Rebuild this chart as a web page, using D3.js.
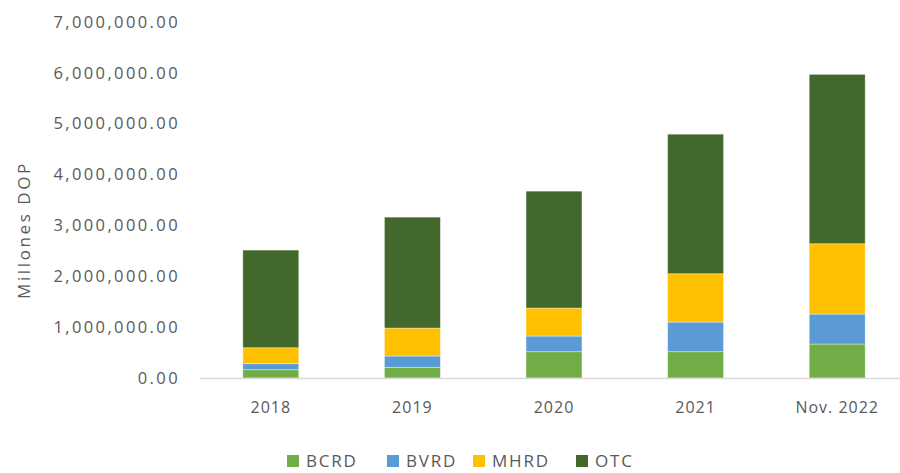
<!DOCTYPE html>
<html>
<head>
<meta charset="utf-8">
<script src="https://cdnjs.cloudflare.com/ajax/libs/d3/7.8.5/d3.min.js"></script>
<style>
  body { margin: 0; background: #fff; }
  svg { display: block; font-family: "Open Sans", "Noto Sans", sans-serif; }
  .tick-label { fill: #595959; font-size: 16.5px; letter-spacing: 2.4px; }
  .label { fill: #595959; font-size: 16px; letter-spacing: 1px; }
  .legend text { font-size: 17px; letter-spacing: 1.8px; }
  .title { fill: #595959; font-size: 17px; letter-spacing: 2.6px; }
</style>
</head>
<body>
<div class="chart"></div>
<script>
var MercadoChart = MercadoChart || {};

MercadoChart.Config = {
  'keys' : ['BCRD', 'BVRD', 'MHRD', 'OTC'],
  'colors' : ['#70ad47', '#5b9bd5', '#ffc000', '#43682b'],
  // millones DOP
  'data' : [
    {year: '2018',      BCRD: 163000, BVRD: 118000, MHRD: 314000, OTC: 1920000},
    {year: '2019',      BCRD: 210000, BVRD: 222000, MHRD: 550000, OTC: 2181000},
    {year: '2020',      BCRD: 517000, BVRD: 308000, MHRD: 550000, OTC: 2299000},
    {year: '2021',      BCRD: 517000, BVRD: 583000, MHRD: 950000, OTC: 2744000},
    {year: 'Nov. 2022', BCRD: 668000, BVRD: 589000, MHRD: 1383000, OTC: 3330000}
  ]
};

MercadoChart.Stacked = (function(){
  var config = MercadoChart.Config;

  function drawChart() {
    var totalWidth = 900, totalHeight = 473;
    var left = 200, baseline = 378, top = 22;
    var step = 141.6;

    var x = d3.scaleBand()
        .domain(config.data.map(function(d) { return d.year; }))
        .range([left, left + step * config.data.length])
        .paddingInner(0.605)
        .paddingOuter(0.3025);

    var y = d3.scaleLinear()
        .domain([0, 7000000])
        .range([baseline, top]);

    var color = d3.scaleOrdinal()
        .domain(config.keys)
        .range(config.colors);

    var svg = d3.select(".chart").append("svg")
        .attr("width", totalWidth)
        .attr("height", totalHeight);

    // y tick labels (no gridlines)
    var fmt = d3.format(",.2f");
    svg.selectAll(".ytick")
        .data(y.ticks(7))
      .enter().append("text")
        .attr("class", "tick-label")
        .attr("x", 180)
        .attr("y", function(d) { return y(d); })
        .attr("dy", "0.35em")
        .style("text-anchor", "end")
        .text(function(d) { return fmt(d); });

    var stack = d3.stack().keys(config.keys);
    var series = stack(config.data);

    svg.selectAll(".serie")
        .data(series)
      .enter().append("g")
        .attr("class", "serie")
        .attr("fill", function(d) { return color(d.key); })
      .selectAll("rect")
        .data(function(d) { return d; })
      .enter().append("rect")
        .attr("x", function(d) { return x(d.data.year); })
        .attr("y", function(d) { return y(d[1]); })
        .attr("width", x.bandwidth())
        .attr("height", function(d) { return y(d[0]) - y(d[1]); })
        .attr("stroke", "rgba(255,255,255,0.45)")
        .attr("stroke-width", 0.8);

    // base axis line
    svg.append("line")
        .attr("x1", left)
        .attr("x2", totalWidth)
        .attr("y1", baseline + 0.5)
        .attr("y2", baseline + 0.5)
        .attr("stroke", "#d9d9d9")
        .attr("stroke-width", 1.5);

    svg.selectAll(".xlabel")
        .data(config.data)
      .enter().append("text")
        .attr("class", "label")
        .attr("x", function(d) { return x(d.year) + x.bandwidth() / 2; })
        .attr("y", 407)
        .attr("dy", "0.35em")
        .style("text-anchor", "middle")
        .text(function(d) { return d.year; });

    svg.append("text")
        .attr("class", "title")
        .attr("transform", "translate(24,230) rotate(-90)")
        .attr("dy", "0.35em")
        .style("text-anchor", "middle")
        .text("Millones DOP");

    var legendX = [287, 387, 473, 576];
    var legend = svg.selectAll(".legend")
        .data(config.keys)
      .enter().append("g")
        .attr("class", "legend")
        .attr("transform", function(d, i) { return "translate(" + legendX[i] + ",461)"; });

    legend.append("rect")
        .attr("x", 0)
        .attr("y", -6)
        .attr("width", 12)
        .attr("height", 12)
        .style("fill", color);

    legend.append("text")
        .attr("class", "label")
        .attr("x", 19)
        .attr("dy", "0.35em")
        .text(function(d) { return d; });
  }

  return {
    draw: function() {
      return drawChart();
    }
  };
})();

MercadoChart.Stacked.draw();
</script>
</body>
</html>
